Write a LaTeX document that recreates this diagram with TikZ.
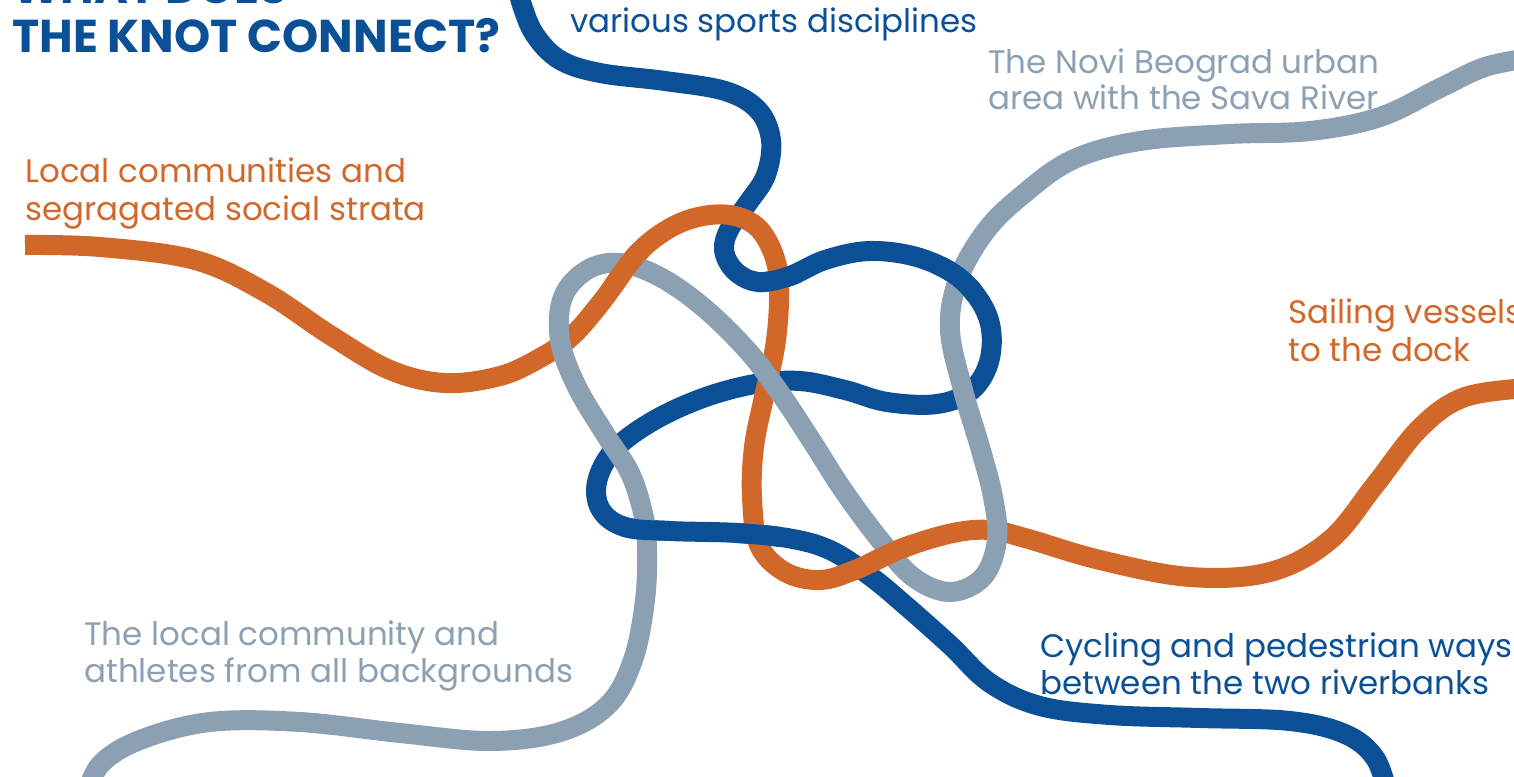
\documentclass[tikz,border=0pt]{standalone}
\usepackage{fontspec}
\setmainfont{Poppins}
\definecolor{kblue}{RGB}{11,80,150}
\definecolor{korange}{RGB}{210,103,42}
\definecolor{kgray}{RGB}{139,160,178}
\begin{document}
\begin{tikzpicture}[x=0.02cm,y=-0.02cm,
  strand/.style={line width=0.4cm, line cap=butt, line join=round},
  lbl/.style={anchor=base west, inner sep=0pt, font=\fontsize{18.5}{22}\selectfont},
  ttl/.style={anchor=base west, inner sep=0pt, text=kblue, font=\fontsize{26.2}{30}\selectfont\bfseries},
  fix/.style={radius=0.5cm}]
\useasboundingbox (0,0) rectangle (1514,777);
% strand paths
\path[save path=\bluep] plot[smooth,tension=0.6] coordinates {
 (516,-20) (522,5) (535,35) (560,60) (600,73) (665,81) (725,91) (758,110)
 (771,140) (766,175) (748,203) (730,228) (724,250) (735,271) (758,282)
 (790,276) (825,260) (870,251) (920,258) (962,280) (988,317) (990,358)
 (972,390) (937,404) (887,402) (845,390) (800,381) (755,384) (703,398)
 (653,421) (614,450) (597,482) (601,510) (625,527) (670,531) (737,533)
 (793,539) (832,551) (870,576) (905,605) (950,645) (990,683) (1040,706)
 (1110,715) (1200,718) (1290,721) (1345,734) (1375,758) (1388,795)};
\path[save path=\orangep] plot[smooth,tension=0.6] coordinates {
 (25,245) (100,247) (195,260) (265,292) (330,335) (390,370) (445,383)
 (500,376) (540,358) (572,336) (603,300) (637,254) (670,228) (703,216)
 (735,216) (760,230) (776,262) (779,300) (775,347) (764,397) (754,447)
 (752,497) (759,545) (785,572) (820,580) (855,570) (903,548) (953,533)
 (990,530) (1025,538) (1100,560) (1190,577) (1270,572) (1330,540)
 (1375,485) (1420,428) (1465,397) (1530,388)};
\path[save path=\grayp] plot[smooth,tension=0.6] coordinates {
 (85,800) (100,765) (140,740) (210,722) (300,722) (400,733) (490,741)
 (560,732) (608,705) (633,660) (645,600) (647,547) (643,513) (630,473)
 (607,437) (577,387) (560,340) (563,297) (587,270) (620,263) (660,277)
 (703,307) (747,350) (780,393) (813,443) (843,490) (880,540) (913,577)
 (950,592) (983,577) (997,540) (993,497) (980,447) (963,390) (950,330)
 (958,280) (985,232) (1020,197) (1072,160) (1140,141) (1230,134)
 (1310,131) (1380,117) (1440,88) (1485,67) (1530,58)};
% base layers: blue under orange under gray
\draw[strand,kblue,use path=\bluep];
\draw[strand,korange,use path=\orangep];
\draw[strand,kgray,use path=\grayp];
% blue over orange
\begin{scope}\clip (777,278) circle[fix]; \draw[strand,kblue,use path=\bluep]; \end{scope}
\begin{scope}\clip (757,534) circle[fix]; \draw[strand,kblue,use path=\bluep]; \end{scope}
% blue over gray
\begin{scope}\clip (645,529) circle[fix]; \draw[strand,kblue,use path=\bluep]; \end{scope}
\begin{scope}\clip (958,278) circle[fix]; \draw[strand,kblue,use path=\bluep]; \end{scope}
% orange over gray
\begin{scope}\clip (626,267) circle[fix]; \draw[strand,korange,use path=\orangep]; \end{scope}
\begin{scope}\clip (890,553) circle[fix]; \draw[strand,korange,use path=\orangep]; \end{scope}
% labels
\node[ttl] (t0) at (12,4) {WHAT DOES};
\node[ttl] (t1) at (12,53) {THE KNOT CONNECT?};
\node[lbl,kblue] (sports) at (570,33) {various sports disciplines};
\node[lbl,kgray] (novi1) at (988,73) {The Novi Beograd urban};
\node[lbl,kgray] (novi2) at (988,110) {area with the Sava River};
\node[lbl,korange] (loc1) at (25,182) {Local communities and};
\node[lbl,korange] (loc2) at (25,220) {segragated social strata};
\node[lbl,korange] (sail1) at (1288,323) {Sailing vessels};
\node[lbl,korange] (sail2) at (1288,361) {to the dock};
\node[lbl,kgray] (ath1) at (84,645) {The local community and};
\node[lbl,kgray] (ath2) at (84,682) {athletes from all backgrounds};
\node[lbl,kblue] (cyc1) at (1040,657) {Cycling and pedestrian ways};
\node[lbl,kblue] (cyc2) at (1040,694) {between the two riverbanks};
\end{tikzpicture}
\end{document}
